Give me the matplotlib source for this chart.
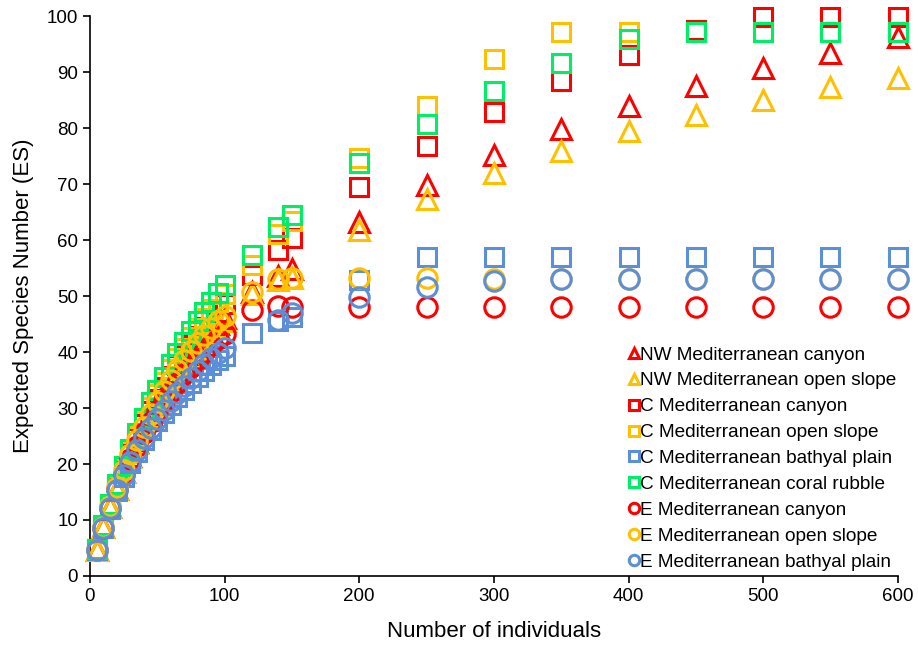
import numpy as np
import matplotlib
matplotlib.use("Agg")
import matplotlib.pyplot as plt
from matplotlib.lines import Line2D

plt.rcParams['font.family'] = ['Liberation Sans', 'DejaVu Sans']

x_vals = [5, 10, 15, 20, 25, 30, 35, 40, 45, 50, 55, 60, 65, 70, 75, 80, 85, 90, 95, 100,
          120, 140, 150, 200, 250, 300, 350, 400, 450, 500, 550, 600]

nw_canyon = [4.7, 8.7, 12.3, 15.6, 18.6, 21.4, 24.0, 26.4, 28.7, 30.8, 32.8, 34.7, 36.5, 38.2, 39.7,
             41.2, 42.6, 43.8, 45.0, 46.0,
             50.8, 53.6, 54.8, 63.3, 69.8, 75.2, 79.9, 83.9, 87.6, 90.8, 93.5, 96.2]
nw_open = [4.7, 8.7, 12.3, 15.6, 18.5, 21.3, 23.8, 26.2, 28.4, 30.5, 32.4, 34.3, 36.0, 37.6, 39.2,
           40.6, 42.0, 43.2, 44.4, 45.5,
           50.3, 52.8, 53.3, 61.8, 67.3, 71.9, 75.9, 79.5, 82.3, 85.0, 87.4, 88.9]
c_canyon = [4.8, 8.9, 12.6, 16.0, 19.0, 21.9, 24.6, 27.1, 29.5, 31.7, 33.8, 35.8, 37.7, 39.5, 41.2,
            42.8, 44.4, 45.8, 47.2, 48.5,
            53.8, 58.3, 60.3, 69.5, 76.8, 82.9, 88.4, 93.1, 97.5, 99.9, 99.9, 99.9]
c_open = [4.8, 9.0, 12.7, 16.2, 19.3, 22.3, 25.0, 27.7, 30.2, 32.5, 34.7, 36.9, 38.9, 40.8, 42.6,
          44.3, 46.0, 47.6, 49.0, 50.3,
          55.6, 61.0, 63.4, 74.6, 84.0, 92.3, 97.1, 97.1, 97.1, 97.1, 97.1, 97.1]
c_bathyal = [4.6, 8.5, 12.0, 15.1, 17.7, 20.1, 22.2, 24.2, 26.0, 27.6, 29.1, 30.5, 31.9, 33.2, 34.4,
             35.5, 36.6, 37.6, 38.5, 39.3,
             43.4, 45.5, 46.3, 52.9, 57.0, 57.0, 57.0, 57.0, 57.0, 57.0, 57.0, 57.0]
c_coral = [4.8, 9.1, 12.8, 16.4, 19.6, 22.7, 25.5, 28.3, 31.0, 33.3, 35.6, 37.9, 39.9, 41.8, 43.7,
           45.5, 47.2, 48.9, 50.5, 52.0,
           57.4, 62.3, 64.4, 73.8, 80.8, 86.7, 91.7, 95.9, 97.1, 97.1, 97.1, 97.1]
e_canyon = [4.7, 8.6, 12.2, 15.5, 18.3, 20.9, 23.3, 25.5, 27.5, 29.4, 31.2, 32.9, 34.5, 36.0, 37.4,
            38.7, 40.0, 41.2, 42.3, 43.3,
            47.5, 48.3, 48.1, 48.0, 48.0, 48.0, 48.0, 48.0, 48.0, 48.0, 48.0, 48.0]
e_open = [4.7, 8.8, 12.5, 15.9, 18.9, 21.7, 24.3, 26.7, 29.0, 31.1, 33.1, 35.0, 36.8, 38.5, 40.1,
          41.6, 43.0, 44.3, 45.5, 46.5,
          50.8, 53.0, 53.2, 53.2, 53.2, 53.0, 53.0, 53.0, 53.0, 53.0, 53.0, 53.0]
e_bathyal = [4.6, 8.5, 12.1, 15.4, 18.0, 20.4, 22.5, 24.6, 26.4, 28.1, 29.7, 31.2, 32.6, 34.0, 35.3,
             36.6, 37.8, 38.9, 39.9, 40.8,
             np.nan, 45.8, 46.9, 49.9, 51.7, 52.6, 53.0, 53.0, 53.0, 53.0, 53.0, 53.0]

labels = ["NW Mediterranean canyon", "NW Mediterranean open slope",
          "C Mediterranean canyon", "C Mediterranean open slope",
          "C Mediterranean bathyal plain", "C Mediterranean coral rubble",
          "E Mediterranean canyon", "E Mediterranean open slope",
          "E Mediterranean bathyal plain"]

RED = '#FF0000'
ORANGE = '#FFC000'
BLUE = '#5B8FD8'
GREEN = '#00EE66'

series = [
    (nw_canyon, '^', RED), (nw_open, '^', ORANGE),
    (c_canyon, 's', RED), (c_open, 's', ORANGE), (c_bathyal, 's', BLUE), (c_coral, 's', GREEN),
    (e_canyon, 'o', RED), (e_open, 'o', ORANGE), (e_bathyal, 'o', BLUE),
]

fig = plt.figure(figsize=(9.18, 6.45), dpi=100)
ax = fig.add_axes([0.098, 0.107, 0.880, 0.868])

sizes = {'^': 14, 's': 13, 'o': 14}
handles = []
for (vals, m, c), lab in zip(series, labels):
    ax.plot(x_vals, vals, linestyle='none', marker=m, markersize=sizes[m],
            markerfacecolor='none', markeredgecolor=c, markeredgewidth=2.2, clip_on=False)
    handles.append(Line2D([], [], linestyle='none', marker=m, markersize=7.5,
                          markerfacecolor='none', markeredgecolor=c, markeredgewidth=2.2,
                          label=lab))

ax.set_xlim(0, 600)
ax.set_ylim(0, 100)
ax.set_xticks([0, 100, 200, 300, 400, 500, 600])
ax.set_yticks(range(0, 101, 10))
for s in ['top', 'right']:
    ax.spines[s].set_visible(False)
for s in ['left', 'bottom']:
    ax.spines[s].set_linewidth(1.2)
    ax.spines[s].set_color('black')
    ax.spines[s].set_zorder(0.5)
ax.tick_params(axis='both', direction='out', length=5, width=1.2, labelsize=13.5, colors='black')
ax.set_xlabel('Number of individuals', fontsize=16, labelpad=12)
ax.set_ylabel('Expected Species Number (ES)', fontsize=16, labelpad=9)

ax.legend(handles=handles, loc='lower right', bbox_to_anchor=(1.008, -0.004), frameon=False,
          fontsize=13.7, handlelength=0.6, handletextpad=0.05, labelspacing=0.45,
          borderaxespad=0.0)

fig.savefig('out.png', dpi=100)
